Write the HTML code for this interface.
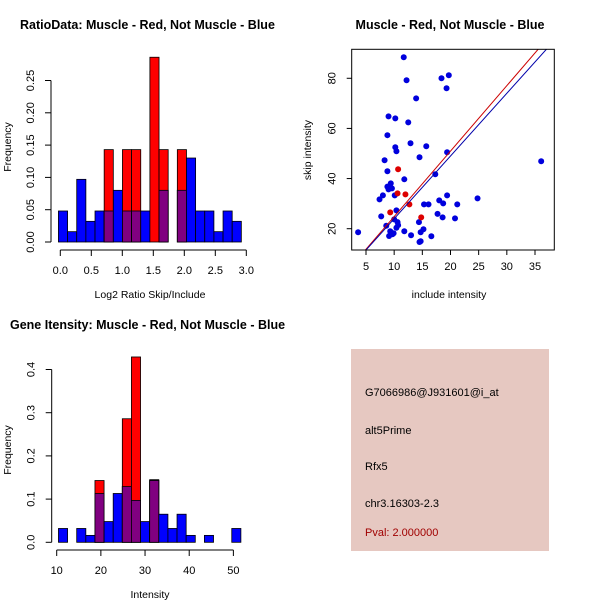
<!DOCTYPE html>
<html><head><meta charset="utf-8"><style>
body{margin:0;background:#fff;}
svg{display:block;font-family:"Liberation Sans",Arial,sans-serif;}
</style></head><body>
<svg id="s" width="600" height="600" viewBox="0 0 600 600">
<rect width="600" height="600" fill="#fff"/>
<g id="p1"></g>
<g id="p2"></g>
<g id="p3"></g>
<g>
<rect x="351" y="349" width="198" height="202" fill="#E6C8C1"/>
<text x="365" y="396" font-size="11" fill="#000">G7066986@J931601@i_at</text>
<text x="365" y="434" font-size="11" fill="#000">alt5Prime</text>
<text x="365" y="470" font-size="11" fill="#000">Rfx5</text>
<text x="365" y="507" font-size="11" fill="#000">chr3.16303-2.3</text>
<text x="365" y="536" font-size="11" fill="#A00000">Pval: 2.000000</text>
</g>
</svg>
<script>
// Ratio histogram data
const ratioBinStart = -0.03;
const ratioBinWidth = 0.1475;
const ratioBlue = [0.048,0.016,0.097,0.032,0.048,0.048,0.08,0.048,0.048,0.048,0,0.08,0,0.08,0.13,0.048,0.048,0.016,0.048,0.032];
const ratioRed  = [0,0,0,0,0,0.143,0,0.143,0.143,0,0.286,0.143,0,0.143,0,0,0,0,0,0];
const ratioXTicks = [0.0,0.5,1.0,1.5,2.0,2.5,3.0];
const ratioYTicks = ["0.00","0.05","0.10","0.15","0.20","0.25"];
// Intensity histogram data
const intBinStart = 10.4;
const intBinWidth = 2.065;
const intBlue = [0.032,0,0.032,0.016,0.113,0.048,0.113,0.129,0.097,0.048,0.145,0.065,0.032,0.065,0.016,0,0.016,0,0,0.032];
const intRed  = [0,0,0,0,0.143,0,0,0.286,0.429,0,0.143,0,0,0,0,0,0,0,0,0];
const intXTicks = [10,20,30,40,50];
const intYTicks = ["0.0","0.1","0.2","0.3","0.4"];
// Scatter data
const blueX = [3.6,11.7,12.2,18.4,19.7,19.3,13.9,9,10.2,12.5,8.8,12.9,15.7,10.2,10.4,19.4,8.3,14.5,8.8,17.3,11.8,8.8,9.4,9.6,9,7.4,8,10.1,19.4,24.8,18,15.3,16.1,18.7,21.2,10.4,17.7,7.7,18.6,20.8,10,10.6,10.7,8.6,10.4,14.4,15.2,14.7,11.8,9.3,9.9,9.7,9.1,13,16.6,14.7,14.5,36.1];
const blueY = [18.6,88.4,79.2,80,81.2,76,72,64.8,64,62.4,57.3,54.1,52.9,52.5,50.9,50.5,47.3,48.5,42.9,41.7,39.7,36.8,38.1,36.1,35.7,31.7,33.3,33.3,33.3,32.1,31.3,29.7,29.7,30.1,29.7,27.3,25.9,24.9,24.5,24.1,23.7,22.6,21.4,21.2,20.4,22.6,19.8,18.6,19,19,18.2,17.8,17.1,17.4,17,15,14.7,46.9];
const redX = [10.7,10.6,12,12.7,9.3,14.8];
const redY = [43.7,34.1,33.7,29.7,26.5,24.5];
const redFit = [-1.25,2.61];
const blueFit = [-1.0,2.50];
const scXTicks = [5,10,15,20,25,30,35];
const scYTicks = [20,40,60,80];

const NS="http://www.w3.org/2000/svg";
function mk(parent,tag,attrs){const e=document.createElementNS(NS,tag);for(const k in attrs)e.setAttribute(k,attrs[k]);parent.appendChild(e);return e;}
function txt(parent,x,y,s,attrs){const e=mk(parent,'text',Object.assign({x:x,y:y,'font-size':11,fill:'#000'},attrs||{}));e.textContent=s;return e;}

function hist(g,o){
  const sx=v=>o.x0+(v-o.xv0)*o.kx, sy=v=>o.y0-v*o.ky;
  for(let i=0;i<o.blue.length;i++){
    const a=sx(o.start+i*o.w), b=sx(o.start+(i+1)*o.w);
    const bv=o.blue[i], rv=o.red[i];
    if(bv>0){const r=mk(g,'rect',{x:a,y:sy(bv),width:b-a,height:sy(0)-sy(bv),fill:'#0000FF',stroke:'#000','stroke-width':0.8});
      }
    if(rv>0){const r=mk(g,'rect',{x:a,y:sy(rv),width:b-a,height:sy(0)-sy(rv),fill:'#FF0000',stroke:'#000','stroke-width':0.8});
      }
    const m=Math.min(bv,rv);
    if(m>0){const r=mk(g,'rect',{x:a,y:sy(m),width:b-a,height:sy(0)-sy(m),fill:'#800080',stroke:'#000','stroke-width':0.8});
      }
  }
  const yv=o.yt.map(Number);
  const ya=mk(g,'line',{x1:o.ax,x2:o.ax,y1:sy(yv[0]),y2:sy(yv[yv.length-1]),stroke:'#000'});
  
  o.yt.forEach(t=>{const y=sy(Number(t));mk(g,'line',{x1:o.ax-6,x2:o.ax,y1:y,y2:y,stroke:'#000'});
    const e=txt(g,o.ax-17,y,t,{'text-anchor':'middle',transform:`rotate(-90 ${o.ax-17} ${y})`});
    });
  const xa=mk(g,'line',{x1:sx(o.xt[0]),x2:sx(o.xt[o.xt.length-1]),y1:o.ay,y2:o.ay,stroke:'#000'});
  
  o.xt.forEach(t=>{const x=sx(t);mk(g,'line',{x1:x,x2:x,y1:o.ay,y2:o.ay+6,stroke:'#000'});
    const e=txt(g,x,o.ay+24,o.fmt?o.fmt(t):String(t),{'text-anchor':'middle'});
    });
}

const g1=document.getElementById('p1');
hist(g1,{x0:60.3,xv0:0,kx:62,y0:242,ky:646,start:ratioBinStart,w:ratioBinWidth,blue:ratioBlue,red:ratioRed,yt:ratioYTicks,xt:ratioXTicks,ax:51,ay:250,fmt:t=>t.toFixed(1)});
let e=txt(g1,20,29,'RatioData: Muscle - Red, Not Muscle - Blue',{'font-weight':'bold','font-size':12.5});

e=txt(g1,150,298,'Log2 Ratio Skip/Include',{'text-anchor':'middle','font-size':10.5});

e=txt(g1,11,147,'Frequency',{'text-anchor':'middle','font-size':10.5,transform:'rotate(-90 11 147)'});


const g3=document.getElementById('p3');
hist(g3,{x0:56.7,xv0:10,kx:4.417,y0:542.3,ky:432,start:intBinStart,w:intBinWidth,blue:intBlue,red:intRed,yt:intYTicks,xt:intXTicks,ax:51.7,ay:550});
e=txt(g3,10,329,'Gene Itensity: Muscle - Red, Not Muscle - Blue',{'font-weight':'bold','font-size':12.5});

e=txt(g3,150,598,'Intensity',{'text-anchor':'middle','font-size':10.5});

e=txt(g3,11,450,'Frequency',{'text-anchor':'middle','font-size':10.5,transform:'rotate(-90 11 450)'});


const g2=document.getElementById('p2');
const L=351.7,R=554.3,T=49.3,B=250;
const px=v=>366+(v-5)*5.633, py=v=>228.7-(v-20)*2.507;
const cp=mk(g2,'clipPath',{id:'clip'});
mk(cp,'rect',{x:L,y:T,width:R-L,height:B-T});
const cg=mk(g2,'g',{'clip-path':'url(#clip)'});
blueX.forEach((x,i)=>{const c=mk(cg,'circle',{cx:px(x),cy:py(blueY[i]),r:3,fill:'#0000DD'});
  });
redX.forEach((x,i)=>{const c=mk(cg,'circle',{cx:px(x),cy:py(redY[i]),r:3,fill:'#DD0000'});
  });
function fit(f,col,name){const xa=0,xb=40;
  const l=mk(cg,'line',{x1:px(xa),y1:py(f[0]+f[1]*xa),x2:px(xb),y2:py(f[0]+f[1]*xb),stroke:col,'stroke-width':1});
  }
fit(redFit,'#CC0000','red-fit-line');fit(blueFit,'#0000AA','blue-fit-line');
const box=mk(g2,'rect',{x:L,y:T,width:R-L,height:B-T,fill:'none',stroke:'#000'});

scXTicks.forEach(t=>{const x=px(t);mk(g2,'line',{x1:x,x2:x,y1:B,y2:B+5,stroke:'#000'});
  const e=txt(g2,x,B+20,String(t),{'text-anchor':'middle'});
  });
scYTicks.forEach(t=>{const y=py(t);mk(g2,'line',{x1:L-5,x2:L,y1:y,y2:y,stroke:'#000'});
  const e=txt(g2,L-16,y,String(t),{'text-anchor':'middle',transform:`rotate(-90 ${L-16} ${y})`});
  });
e=txt(g2,450,29,'Muscle - Red, Not Muscle - Blue',{'font-weight':'bold','font-size':12.5,'text-anchor':'middle'});

e=txt(g2,449,298,'include intensity',{'text-anchor':'middle','font-size':10.5});

e=txt(g2,311,150,'skip intensity',{'text-anchor':'middle','font-size':10.5,transform:'rotate(-90 311 150)'});

</script>
</body></html>
